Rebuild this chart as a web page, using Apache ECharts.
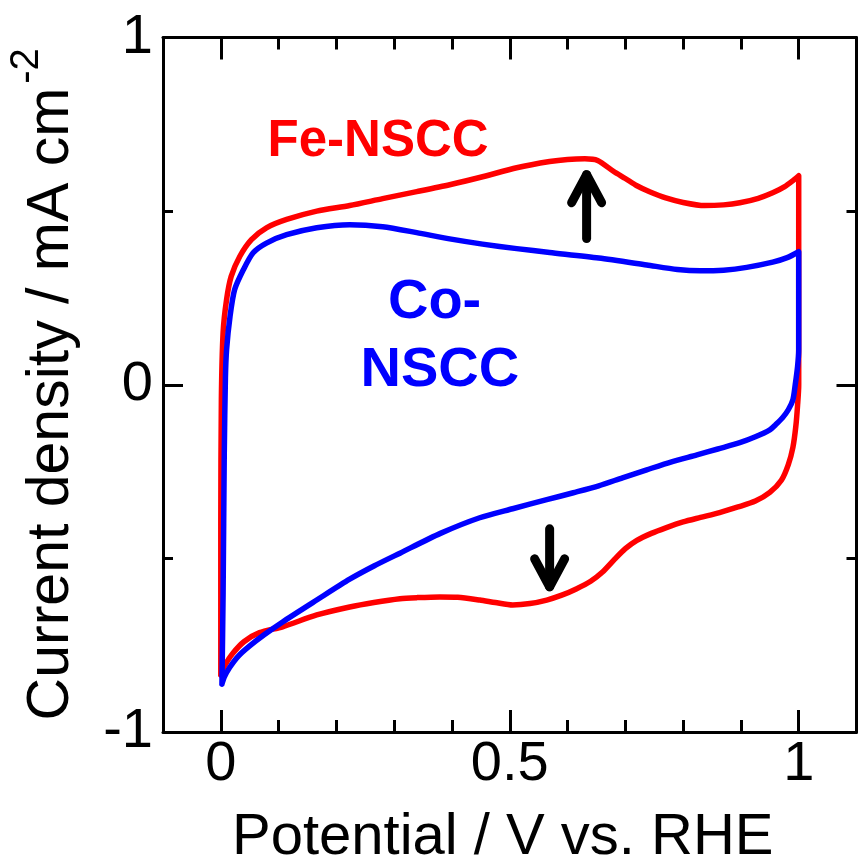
<!DOCTYPE html>
<html>
<head>
<meta charset="utf-8">
<script src="https://cdn.jsdelivr.net/npm/echarts@6/dist/echarts.min.js"></script>
<style>
html,body{margin:0;padding:0;background:#fff;}
#chart{width:858px;height:861px;}
</style>
</head>
<body>
<div id="chart"></div>
<script>
// ---- Data ----
// Fe-NSCC cyclic voltammogram: potential (V vs. RHE) and current density (mA cm^-2)
const feV = [0.000,0.000,0.001,0.004,0.010,0.018,0.033,0.053,0.079,0.114,0.166,0.223,0.280,0.339,0.396,0.453,0.512,0.569,0.600,0.630,0.652,0.680,0.700,0.720,0.742,0.770,0.800,0.837,0.870,0.898,0.930,0.955,0.975,0.990,1.000,1.000,1.000,0.998,0.995,0.990,0.982,0.970,0.950,0.925,0.895,0.863,0.830,0.800,0.770,0.745,0.720,0.700,0.680,0.660,0.640,0.615,0.590,0.564,0.535,0.505,0.475,0.448,0.410,0.379,0.340,0.310,0.265,0.223,0.166,0.107,0.067,0.040,0.020,0.008,0.002,0.000];
const feJ = [-0.836,-0.400,-0.043,0.150,0.245,0.312,0.370,0.418,0.452,0.476,0.500,0.516,0.536,0.556,0.576,0.599,0.625,0.643,0.649,0.651,0.646,0.614,0.594,0.573,0.556,0.538,0.525,0.516,0.518,0.524,0.537,0.553,0.570,0.588,0.602,0.300,0.000,-0.060,-0.120,-0.180,-0.230,-0.275,-0.310,-0.335,-0.352,-0.368,-0.382,-0.395,-0.412,-0.428,-0.448,-0.472,-0.505,-0.540,-0.566,-0.588,-0.606,-0.620,-0.630,-0.634,-0.627,-0.620,-0.612,-0.611,-0.613,-0.616,-0.627,-0.640,-0.663,-0.697,-0.714,-0.740,-0.775,-0.805,-0.825,-0.836];
// Co-NSCC cyclic voltammogram
const coV = [0.002,0.004,0.006,0.008,0.010,0.016,0.024,0.039,0.056,0.079,0.114,0.166,0.223,0.280,0.339,0.396,0.453,0.512,0.569,0.654,0.737,0.790,0.830,0.870,0.910,0.955,0.980,1.000,1.000,1.000,0.998,0.994,0.990,0.982,0.972,0.960,0.950,0.925,0.898,0.860,0.824,0.780,0.737,0.695,0.654,0.610,0.564,0.505,0.448,0.380,0.310,0.265,0.223,0.166,0.107,0.075,0.050,0.030,0.015,0.006,0.002];
const coJ = [-0.862,-0.600,-0.200,0.020,0.101,0.197,0.274,0.331,0.380,0.408,0.432,0.452,0.461,0.455,0.438,0.420,0.405,0.392,0.381,0.365,0.345,0.332,0.328,0.330,0.338,0.353,0.366,0.383,0.250,0.100,0.052,0.000,-0.043,-0.072,-0.095,-0.115,-0.130,-0.150,-0.167,-0.185,-0.202,-0.222,-0.245,-0.268,-0.291,-0.311,-0.331,-0.357,-0.383,-0.428,-0.485,-0.522,-0.560,-0.620,-0.683,-0.720,-0.752,-0.782,-0.815,-0.842,-0.862];

// ---- Axes / ticks ----
const xMin = -0.1, xMax = 1.1;          // frame range
const xTickMin = 0, xTickMax = 1, xTickInterval = 0.5, xMinorSplit = 5;
const xTickLabels = ['0', '0.5', '1'];
const yMin = -1, yMax = 1, yInterval = 1, yMinorSplit = 2;
const xTitle = 'Potential / V vs. RHE';
const yTitle = 'Current density / mA cm';
const yTitleSup = '-2';
const seriesNames = ['Fe-NSCC', 'Co-NSCC'];

// annotation anchors in data coordinates
const arrowUp = {v: 0.633, from: 0.421, to: 0.605};
const arrowDown = {v: 0.569, from: -0.415, to: -0.582};

const FONT = '"Liberation Sans", Arial, Helvetica, sans-serif';
const W = 858, H = 861;
const G = {left: 163, right: 1.5, top: 37.5, bottom: 129};
const plotW = W - G.left - G.right;
// tick grid: same pixel mapping, spanning 0..1 only
const G2 = {
  left: G.left + (xTickMin - xMin) / (xMax - xMin) * plotW,
  right: G.right + (xMax - xTickMax) / (xMax - xMin) * plotW,
  top: G.top, bottom: G.bottom
};

const chart = echarts.init(document.getElementById('chart'), null, {renderer: 'canvas'});
function pairs(xs, ys) { return xs.map((x, i) => [x, ys[i]]); }

const black = {color: '#000', width: 3};

function frameX(pos, withName) {
  return {
    type: 'value', position: pos, min: xMin, max: xMax, gridIndex: 0,
    axisLine: {show: true, onZero: false, lineStyle: black},
    axisTick: {show: false}, axisLabel: {show: false}, splitLine: {show: false},
    name: withName ? xTitle : '', nameLocation: 'middle', nameGap: 77,
    nameTextStyle: {color: '#000', fontSize: 58, fontFamily: FONT, padding: [0, 14, 0, 0]}
  };
}
function tickX(pos, withLabel) {
  return {
    type: 'value', position: pos, min: xTickMin, max: xTickMax, interval: xTickInterval, gridIndex: 1,
    axisLine: {show: false, onZero: false},
    axisTick: {show: true, inside: true, length: 22, lineStyle: black},
    minorTick: {show: true, splitNumber: xMinorSplit, length: 12, lineStyle: black},
    axisLabel: withLabel ? {
      show: true, margin: 5, color: '#000', fontSize: 56, fontFamily: FONT,
      formatter: v => { const i = Math.round((v - xTickMin) / xTickInterval); return xTickLabels[i] || ''; }
    } : {show: false},
    splitLine: {show: false}, minorSplitLine: {show: false}
  };
}
function yAxisDef(pos, withLabel) {
  return {
    type: 'value', position: pos, min: yMin, max: yMax, interval: yInterval, gridIndex: 0,
    axisLine: {show: true, onZero: false, lineStyle: black},
    axisTick: {show: true, inside: true, length: 20, lineStyle: black},
    minorTick: {show: true, splitNumber: yMinorSplit, length: 10, lineStyle: black},
    axisLabel: withLabel ? {show: true, margin: 10, color: '#000', fontSize: 56, fontFamily: FONT} : {show: false},
    splitLine: {show: false}, minorSplitLine: {show: false}
  };
}

chart.setOption({
  animation: false,
  backgroundColor: '#fff',
  grid: [
    Object.assign({containLabel: false, outerBoundsMode: 'none'}, G),
    Object.assign({containLabel: false, outerBoundsMode: 'none'}, G2)
  ],
  xAxis: [frameX('bottom', true), frameX('top', false), tickX('bottom', true), tickX('top', false)],
  yAxis: [yAxisDef('left', true), yAxisDef('right', false),
          {type: 'value', gridIndex: 1, min: yMin, max: yMax, show: false, axisLine: {onZero: false}}],
  series: [
    {name: seriesNames[0], type: 'line', xAxisIndex: 0, yAxisIndex: 0, data: pairs(feV, feJ),
     showSymbol: false, symbol: 'none', smooth: 0.25, clip: false,
     lineStyle: {color: '#ff0000', width: 5.5, join: 'round', cap: 'round'}},
    {name: seriesNames[1], type: 'line', xAxisIndex: 0, yAxisIndex: 0, data: pairs(coV, coJ),
     showSymbol: false, symbol: 'none', smooth: 0.25, clip: false,
     lineStyle: {color: '#0000ff', width: 5.5, join: 'round', cap: 'round'}}
  ]
});

function px(v, j) { return chart.convertToPixel({xAxisIndex: 0, yAxisIndex: 0}, [v, j]); }

function arrow(a, dir) {
  const p0 = px(a.v, a.from), p1 = px(a.v, a.to);
  const back = 28 * dir, half = 15;
  const style = {stroke: '#000', lineWidth: 9, lineCap: 'round', lineJoin: 'round', fill: null};
  return [
    {type: 'polyline', shape: {points: [p0, p1]}, style: style, z: 100},
    {type: 'polyline', shape: {points: [[p1[0] - half, p1[1] + back], p1, [p1[0] + half, p1[1] + back]]}, style: style, z: 100}
  ];
}

const feLab = px(0.081, 0.700);
const coLab1 = px(0.370, 0.238);
const coLab2 = px(0.379, 0.040);

chart.setOption({
  graphic: [
    ...arrow(arrowUp, 1),
    ...arrow(arrowDown, -1),
    {type: 'text', x: feLab[0], y: feLab[1], z: 100,
     style: {text: seriesNames[0], fill: '#ff0000', font: 'bold 51px ' + FONT, align: 'left', verticalAlign: 'middle'}},
    {type: 'text', x: coLab1[0], y: coLab1[1], z: 100,
     style: {text: 'Co-', fill: '#0000ff', font: 'bold 56px ' + FONT, align: 'center', verticalAlign: 'middle'}},
    {type: 'text', x: coLab2[0], y: coLab2[1], z: 100,
     style: {text: 'NSCC', fill: '#0000ff', font: 'bold 56px ' + FONT, align: 'center', verticalAlign: 'middle'}},
    {type: 'text', x: 52, y: 404, rotation: Math.PI / 2, z: 100,
     style: {text: yTitle, fill: '#000', font: '59px ' + FONT, align: 'center', verticalAlign: 'middle'}},
    {type: 'text', x: 27, y: 66, rotation: Math.PI / 2, z: 100,
     style: {text: yTitleSup, fill: '#000', font: '40px ' + FONT, align: 'center', verticalAlign: 'middle'}}
  ]
});
</script>
</body>
</html>
